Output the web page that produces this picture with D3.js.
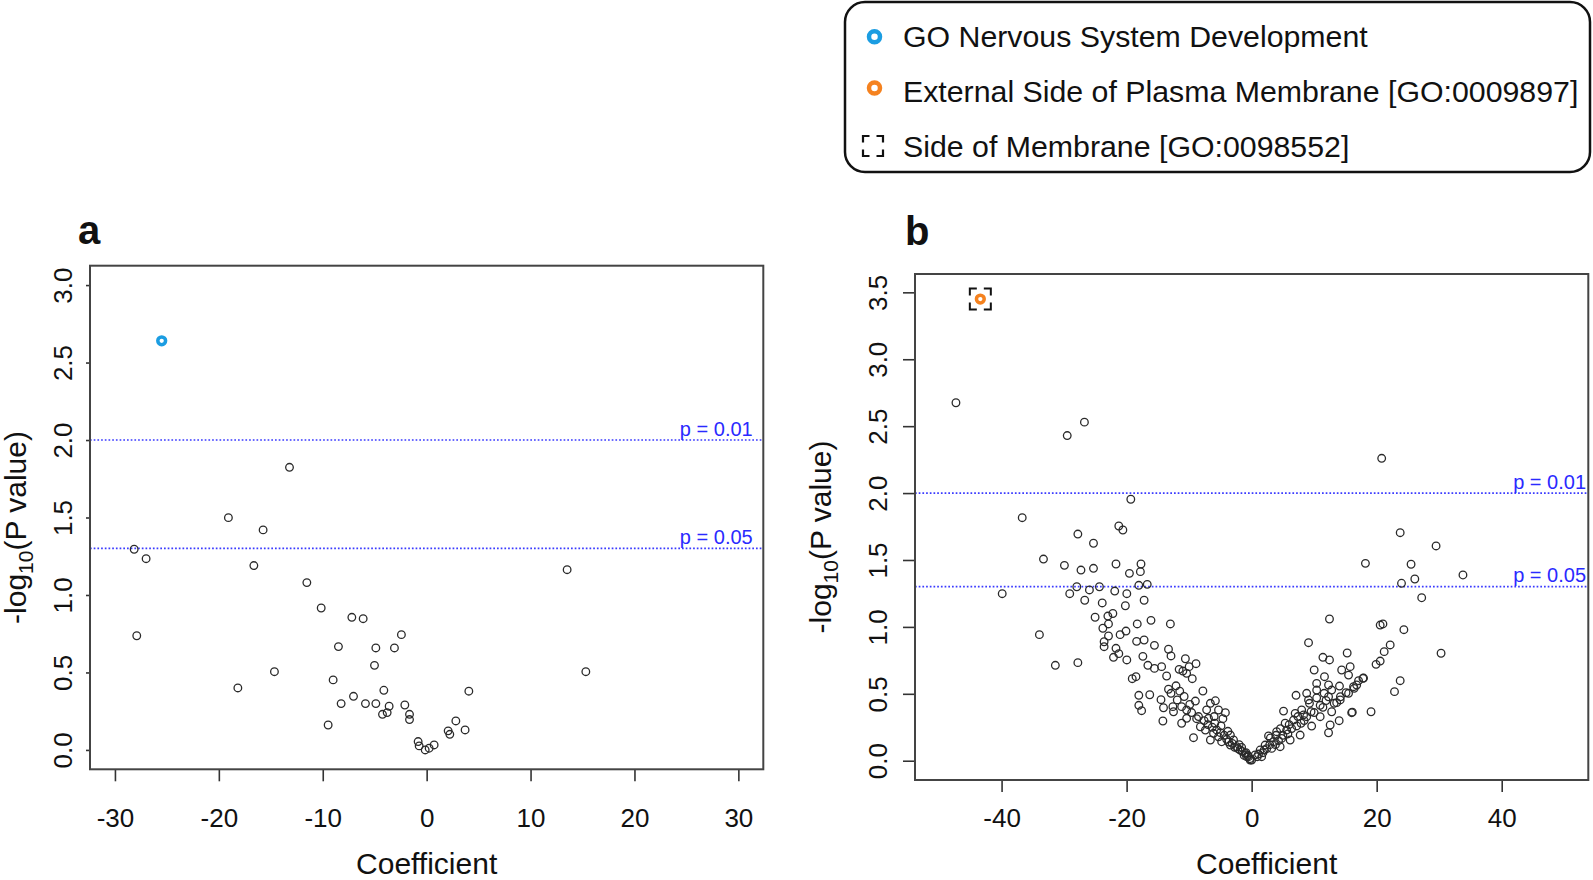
<!DOCTYPE html>
<html><head><meta charset="utf-8">
<script src="https://cdn.jsdelivr.net/npm/d3@7"></script>
<style>
body{margin:0;background:#fff}
svg{display:block}
text{font-family:"Liberation Sans",Arial,Helvetica,sans-serif}
</style>
</head><body>
<svg id="chart" width="1593" height="880"></svg>
<script>
// ---------------- DATA ----------------
const panelA_points = [
 [-28.15,1.295],[-27.0,1.234],[-27.9,0.737],[-19.08,1.499],[-15.74,1.42],[-16.63,1.19],
 [-18.17,0.40],[-14.65,0.505],[-13.2,1.824],[-11.53,1.08],[-10.15,0.916],[-7.2,0.856],
 [-6.11,0.847],[-2.43,0.744],[-8.49,0.667],[-4.89,0.658],[-3.1,0.658],[-5.02,0.546],
 [-9.0,0.452],[-4.12,0.385],[-8.23,0.299],[-7.04,0.346],[-5.89,0.299],[-4.89,0.299],
 [-3.61,0.282],[-4.25,0.23],[-3.8,0.241],[-2.1,0.29],[-1.65,0.23],[-1.65,0.196],
 [-9.48,0.161],[-0.82,0.054],[-0.72,0.026],[-0.14,0.0],[0.24,0.011],[0.72,0.032],
 [2.07,0.123],[2.23,0.101],[2.81,0.187],[3.7,0.129],[4.06,0.379],[13.52,1.163],[15.32,0.505]
];
const panelA_highlight = [[-25.5,2.64]];          // GO Nervous System Development

const panelB_points = [
 [-47.3,2.675],[-29.5,2.43],[-26.75,2.53],[-19.33,1.954],[-36.7,1.816],[-27.8,1.694],
 [-25.3,1.625],[-21.25,1.754],[-20.6,1.724],[-33.3,1.507],[-29.95,1.46],[-27.3,1.425],
 [-25.3,1.438],[-21.7,1.47],[-17.7,1.47],[-19.55,1.40],[-17.8,1.413],[-39.9,1.248],
 [-27.97,1.30],[-29.1,1.248],[-25.95,1.276],[-24.35,1.30],[-26.7,1.199],[-21.9,1.268],
 [-19.97,1.248],[-18.05,1.311],[-16.7,1.318],[-23.9,1.179],[-20.2,1.158],[-17.2,1.199],
 [-25.04,1.072],[-23.0,1.081],[-22.2,1.10],[-22.9,1.022],[-23.8,0.99],[-22.9,0.932],
 [-18.3,1.022],[-16.1,1.049],[-13.0,1.022],[-33.95,0.942],[-21.04,0.942],[-20.1,0.969],
 [-18.4,0.892],[-17.2,0.902],[-15.55,0.862],[-23.6,0.889],[-23.6,0.852],[-21.7,0.84],
 [-21.25,0.80],[-22.1,0.773],[-19.97,0.753],[-17.4,0.78],[-16.6,0.713],[-15.55,0.69],
 [-14.4,0.703],[-13.3,0.833],[-12.9,0.783],[-31.4,0.713],[-27.8,0.733],[-10.6,0.762],
 [-8.9,0.725],[-11.6,0.683],[-11.0,0.670],[-10.0,0.703],[-10.4,0.653],[-9.5,0.613],
 [-13.6,0.633],[-19.1,0.613],[-18.5,0.628],[-18.05,0.489],[-16.3,0.493],[-18.05,0.414],
 [-17.6,0.374],[-14.5,0.456],[-13.3,0.534],[-12.9,0.504],[-14.1,0.396],[-14.2,0.297],
 [-12.6,0.404],[-11.9,0.454],[-11.2,0.404],[-12.5,0.366],[-11.2,0.28],[-10.4,0.379],
 [-10.4,0.317],[-9.0,0.446],[-7.8,0.521],[-8.8,0.314],[-9.3,0.172],[-6.9,0.317],
 [-6.6,0.429],[-5.8,0.448],[-5.3,0.379],[-4.2,0.359],[-4.6,0.314],[-8.2,0.254],
 [-7.4,0.229],[-6.1,0.205],[-5.3,0.179],[-6.6,0.155],[-4.8,0.142],[-3.4,0.192],
 [-2.9,0.155],[-3.4,0.117],[-2.4,0.105],[-1.84,0.08],[-1.04,0.055],[-0.5,0.03],
 [0.0,0.005],[-7.0,0.27],[-6.3,0.25],[-5.6,0.23],[-5.0,0.21],[-4.4,0.19],[-4.0,0.16],
 [-3.7,0.14],[-3.1,0.13],[-2.7,0.10],[-2.2,0.09],[-1.5,0.07],[-1.2,0.04],[-0.8,0.03],
 [-0.3,0.015],[-5.9,0.28],[-4.9,0.26],[-3.8,0.22],[-2.0,0.12],[-1.6,0.10],[-0.9,0.06],
 [-0.6,0.04],[-7.6,0.30],[-8.5,0.33],[-9.6,0.36],[-9.9,0.42],[-10.8,0.48],[-11.5,0.52],
 [-12.1,0.56],[-7.2,0.38],[-6.0,0.33],
 [20.8,2.26],[23.76,1.704],[29.5,1.605],[18.2,1.475],[25.5,1.468],[33.8,1.388],
 [26.1,1.358],[23.97,1.326],[27.2,1.218],[12.45,1.059],[20.56,1.014],[21.0,1.022],
 [24.35,0.979],[9.1,0.882],[22.16,0.865],[21.2,0.815],[30.3,0.803],[15.28,0.805],
 [11.4,0.773],[12.45,0.753],[19.9,0.72],[20.56,0.745],[10.0,0.678],[14.4,0.678],
 [15.76,0.703],[15.5,0.64],[11.65,0.628],[12.3,0.566],[14.05,0.558],[17.9,0.618],
 [17.1,0.598],[16.3,0.553],[15.5,0.504],[23.76,0.598],[22.85,0.516],[10.4,0.528],
 [8.8,0.504],[7.1,0.489],[11.6,0.504],[12.3,0.478],[12.8,0.528],[9.25,0.429],
 [10.96,0.414],[14.16,0.454],[16.0,0.359],[16.1,0.363],[19.1,0.366],[5.1,0.371],
 [6.96,0.354],[8.8,0.329],[10.96,0.329],[12.8,0.366],[14.0,0.299],[12.56,0.267],
 [12.3,0.209],[9.6,0.259],[7.76,0.192],[6.7,0.304],[5.36,0.28],[4.0,0.217],
 [2.7,0.185],[3.5,0.142],[2.16,0.117],[1.36,0.08],[0.56,0.043],[-0.24,0.005],
 [5.6,0.229],[6.16,0.155],[4.8,0.167],[4.56,0.105],[3.2,0.092],[9.1,0.454],
 [9.5,0.366],[8.3,0.342],[11.4,0.399],[13.2,0.429],[10.4,0.578],[17.8,0.616],
 [16.8,0.566],[16.4,0.541],[15.1,0.508],[14.2,0.478],[13.6,0.434],
 [0.9,0.03],[1.8,0.06],[2.4,0.09],[2.9,0.12],[3.8,0.12],[4.3,0.15],[5.0,0.19],
 [5.8,0.2],[6.4,0.24],[7.2,0.26],[7.9,0.28],[8.4,0.3],[1.1,0.05],[1.6,0.03],
 [2.0,0.08],[3.0,0.17],[3.9,0.19],[4.6,0.24],[6.0,0.27],[7.4,0.33],[8.0,0.38],
 [10.0,0.36],[10.4,0.47],[11.9,0.45]
];
const panelB_highlight = [[-43.4,3.45]];          // External Side of Plasma Membrane
const panelB_square = [[-43.4,3.45]];             // Side of Membrane

const panelA_xticks = [-30,-20,-10,0,10,20,30];
const panelA_yticks = [0,0.5,1,1.5,2,2.5,3];
const panelB_xticks = [-40,-20,0,20,40];
const panelB_yticks = [0,0.5,1,1.5,2,2.5,3,3.5];
const thresholdP = [0.01, 0.05];
const thresholdLabels = ["p = 0.01", "p = 0.05"];
const legendLabels = ["GO Nervous System Development",
  "External Side of Plasma Membrane [GO:0009897]",
  "Side of Membrane [GO:0098552]"];
const panelLabels = ["a","b"];
const xTitle = "Coefficient";

// ---------------- DRAW ----------------
const svg = d3.select("#chart");
const BLUE = "#1b9de2", ORANGE = "#f5821f", PT = "#2a2a2a", LINEBLUE = "#3a3aff";

function drawPanel(c) {
  const g = svg.append("g");
  const x = d3.scaleLinear().domain(c.xdom).range([c.left, c.right]);
  const y = d3.scaleLinear().domain(c.ydom).range([c.bottom, c.top]);

  const xa = g.append("g").attr("transform", `translate(0,${c.bottom})`)
    .call(d3.axisBottom(x).tickValues(c.xticks).tickSize(12).tickFormat(d => String(d)));
  xa.select(".domain").remove();
  xa.selectAll(".tick line").attr("stroke", "#333").attr("stroke-width", 1.6);
  xa.selectAll(".tick text").attr("y", c.xlabBase).attr("dy", 0)
    .attr("font-size", 26).attr("fill", "#111").attr("font-family", "Liberation Sans, Arial, sans-serif");

  const ya = g.append("g").attr("transform", `translate(${c.left},0)`)
    .call(d3.axisLeft(y).tickValues(c.yticks).tickSize(c.ytick).tickFormat(d => d.toFixed(1)));
  ya.select(".domain").remove();
  ya.selectAll(".tick line").attr("stroke", "#333").attr("stroke-width", 1.6);
  ya.selectAll(".tick text").attr("transform", "rotate(-90)").attr("x", 0).attr("y", -c.ylabOff)
    .attr("dy", 0).attr("text-anchor", "middle").attr("font-size", 26).attr("fill", "#111")
    .attr("font-family", "Liberation Sans, Arial, sans-serif");

  thresholdP.forEach((p, i) => {
    const yy = y(-Math.log10(p));
    g.append("line").attr("x1", c.left).attr("x2", c.right).attr("y1", yy).attr("y2", yy)
      .attr("stroke", LINEBLUE).attr("stroke-width", 1.7).attr("stroke-dasharray", "1.7,2");
    g.append("text").attr("x", c.right - c.pOff).attr("y", yy - 4.5).attr("text-anchor", "end")
      .attr("font-size", 20).attr("fill", "#2a2aff").text(thresholdLabels[i]);
  });

  g.append("g").selectAll("circle").data(c.points).join("circle")
    .attr("cx", d => x(d[0])).attr("cy", d => y(d[1])).attr("r", 3.8)
    .attr("fill", "none").attr("stroke", PT).attr("stroke-width", 1.3);

  g.append("g").selectAll("circle").data(c.highlight).join("circle")
    .attr("cx", d => x(d[0])).attr("cy", d => y(d[1])).attr("r", 3.9)
    .attr("fill", "none").attr("stroke", c.hcolor).attr("stroke-width", 3.5);

  if (c.square) {
    g.append("g").selectAll("rect").data(c.square).join("rect")
      .attr("x", d => x(d[0]) - 10.5).attr("y", d => y(d[1]) - 10.5)
      .attr("width", 21).attr("height", 21).attr("fill", "none").attr("stroke", "#111")
      .attr("stroke-width", 2).attr("stroke-dasharray", "14 7").attr("stroke-dashoffset", 7);
  }

  g.append("rect").attr("x", c.left).attr("y", c.top).attr("width", c.right - c.left)
    .attr("height", c.bottom - c.top).attr("fill", "none").attr("stroke", "#444").attr("stroke-width", 2);

  g.append("text").attr("x", (c.left + c.right) / 2 + c.xtitleShift).attr("y", 874)
    .attr("text-anchor", "middle").attr("font-size", 30).attr("fill", "#111").text(xTitle);

  const yt = g.append("text").attr("transform", `translate(${c.ytitleX},${(c.top + c.bottom) / 2 + 10}) rotate(-90)`)
    .attr("text-anchor", "middle").attr("font-size", 30).attr("fill", "#111");
  yt.append("tspan").text("-log");
  yt.append("tspan").attr("font-size", 21).attr("dy", 7).text("10");
  yt.append("tspan").attr("dy", -7).text("(P value)");

  g.append("text").attr("x", c.labX).attr("y", c.labY).attr("font-size", 40)
    .attr("font-weight", "bold").attr("fill", "#111").text(c.label);
}

drawPanel({
  left: 90, right: 763.3, top: 265.7, bottom: 769.3,
  xdom: [-32.4, 32.4], ydom: [-0.125, 3.125],
  xticks: panelA_xticks, yticks: panelA_yticks, ytick: 4, ylabOff: 18.3, xlabBase: 57.7,
  points: panelA_points, highlight: panelA_highlight, hcolor: BLUE, square: null,
  pOff: 10.6, xtitleShift: 0, ytitleX: 26, label: panelLabels[0], labX: 78, labY: 244
});
drawPanel({
  left: 915, right: 1588.3, top: 274, bottom: 780,
  xdom: [-53.85, 53.85], ydom: [-0.144, 3.637],
  xticks: panelB_xticks, yticks: panelB_yticks, ytick: 12, ylabOff: 28, xlabBase: 47,
  points: panelB_points, highlight: panelB_highlight, hcolor: ORANGE, square: panelB_square,
  pOff: 2.3, xtitleShift: 15, ytitleX: 831, label: panelLabels[1], labX: 905, labY: 245
});

const lg = svg.append("g");
lg.append("rect").attr("x", 845).attr("y", 2).attr("width", 745).attr("height", 170)
  .attr("rx", 20).attr("ry", 20).attr("fill", "#fff").attr("stroke", "#111").attr("stroke-width", 2.5);
const rowsY = [36.7, 91.5, 146];
legendLabels.forEach((t, i) => {
  lg.append("text").attr("x", 903).attr("y", rowsY[i] + 10.5).attr("font-size", 30.3)
    .attr("fill", "#111").text(t);
});
lg.append("circle").attr("cx", 874.5).attr("cy", rowsY[0]).attr("r", 5.5)
  .attr("fill", "none").attr("stroke", BLUE).attr("stroke-width", 4.5);
lg.append("circle").attr("cx", 874.5).attr("cy", rowsY[1] - 3.5).attr("r", 5.5)
  .attr("fill", "none").attr("stroke", ORANGE).attr("stroke-width", 4.5);
lg.append("rect").attr("x", 863).attr("y", rowsY[2] - 10).attr("width", 20).attr("height", 20)
  .attr("fill", "none").attr("stroke", "#111").attr("stroke-width", 2.2)
  .attr("stroke-dasharray", "13 7").attr("stroke-dashoffset", 6.5);
</script>
</body></html>
